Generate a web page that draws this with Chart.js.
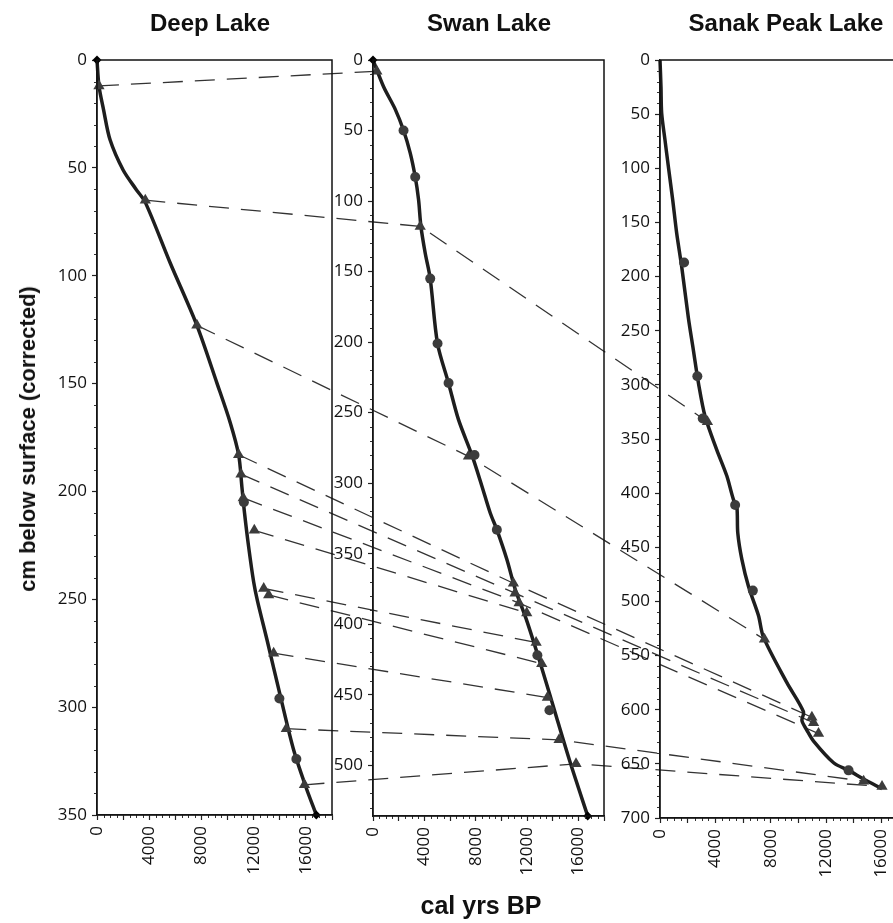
<!DOCTYPE html>
<html>
<head>
<meta charset="utf-8">
<script src="https://cdn.jsdelivr.net/npm/chart.js@4.4.1/dist/chart.umd.min.js"></script>
<style>
html, body { margin: 0; padding: 0; background: #fff; overflow: hidden; }
#wrap { position: relative; width: 893px; height: 923px; overflow: hidden; }
canvas { position: absolute; left: 0; top: 0; }
.lbl { position: absolute; font-family: 'Liberation Sans', Arial, sans-serif; font-weight: bold; color: #111; white-space: nowrap; }
</style>
</head>
<body>
<div id="wrap">
  <canvas id="ties" width="940" height="923"></canvas>
  <canvas id="deep" width="940" height="923"></canvas>
  <canvas id="swan" width="940" height="923"></canvas>
  <canvas id="sanak" width="940" height="923"></canvas>
  <div class="lbl" style="left:210px;top:11px;font-size:24px;line-height:24px;transform:translateX(-50%)">Deep Lake</div>
  <div class="lbl" style="left:489px;top:11px;font-size:24px;line-height:24px;transform:translateX(-50%)">Swan Lake</div>
  <div class="lbl" style="left:786px;top:11px;font-size:24px;line-height:24px;transform:translateX(-50%)">Sanak Peak Lake</div>
  <div class="lbl" style="left:28px;top:439px;font-size:22px;line-height:22px;transform:translate(-50%,-50%) rotate(-90deg)">cm below surface (corrected)</div>
  <div class="lbl" style="left:481px;top:893px;font-size:25px;line-height:25px;transform:translateX(-50%)">cal yrs BP</div>
</div>
<script>
// Deep Lake
const deepCurveAge   = [0, 150, 500, 1000, 2000, 3000, 3700, 5600, 7650, 9200, 10200, 10850, 11100, 11300, 11600, 12000, 12300, 13030, 14050, 15070, 16000, 16800];
const deepCurveDepth = [0, 12, 23, 37, 51, 60, 66, 94, 123, 150, 168, 183, 198, 210, 225, 242, 251, 269, 295, 320, 337, 350];
const deepTriAge     = [150, 3700, 7650, 10850, 11030, 11200, 12050, 12770, 13150, 13530, 14500, 15890];
const deepTriDepth   = [12, 65, 123, 183, 192, 203, 218, 245, 248, 275, 310, 336];
const deepDotAge     = [11250, 13970, 15270];
const deepDotDepth   = [205, 296, 324];
const deepEndAge     = [0, 16800];
const deepEndDepth   = [0, 350];

// Swan Lake
const swanCurveAge   = [0, 826, 1735, 2383, 2902, 3292, 3550, 3735, 4070, 4459, 5027, 5883, 6662, 7704, 8482, 9128, 9650, 10428, 11074, 12000, 13150, 14300, 15400, 16730];
const swanCurveDepth = [0, 19, 35, 50, 66, 83, 99, 118, 137, 155, 201, 229, 255, 280, 302, 321, 333, 354, 375, 398, 431, 466, 499, 536];
const swanTriAge     = [300, 3680, 7440, 10940, 11070, 11385, 11980, 12710, 13150, 13590, 14500, 15820];
const swanTriDepth   = [8, 118, 281, 371, 378, 385, 392, 413, 428, 452, 482, 499];
const swanDotAge     = [2380, 3290, 4460, 5030, 5890, 7910, 9650, 12810, 13750];
const swanDotDepth   = [50, 83, 155, 201, 229, 280, 333, 422, 461];
const swanEndAge     = [0, 16730];
const swanEndDepth   = [0, 536];

// Sanak Peak Lake
const sanakCurveAge   = [0, 72, 120, 362, 600, 917, 1207, 1569, 2050, 2413, 2775, 3258, 4104, 4828, 5310, 5552, 5624, 5914, 6394, 7118, 7479, 9172, 10375, 10260, 10620, 11100, 12548, 13630, 14720, 16050];
const sanakCurveDepth = [0, 25, 49, 74, 98, 129, 160, 191, 238, 268, 298, 329, 360, 384, 406, 412, 437, 461, 486, 513, 533, 575, 602, 610, 619, 629, 649, 656, 664, 673];
const sanakTriAge     = [3430, 7550, 10980, 11100, 11460, 14720, 16050];
const sanakTriDepth   = [334, 535, 607, 612, 622, 666, 671];
const sanakDotAge     = [1740, 2700, 3090, 5430, 6710, 13630];
const sanakDotDepth   = [187, 292, 331, 411, 490, 656];

// tie lines: index into each lake's triangle list (null = no link)
const tieDeep  = [0, 1, 2, 3, 4, 5, 6, 7, 8, 9, 10, 11];
const tieSwan  = [0, 1, 2, 3, 4, 5, 6, 7, 8, 9, 10, 11];
const tieSanak = [null, 0, 1, 2, 3, 4, null, null, null, null, 5, 6];

const tickFont = { family: "'Open Sans', 'DejaVu Sans', sans-serif", size: 17 };
const ink = '#1e1e1e';
const markGray = '#3c3c3c';

function pts(ages, depths) {
    return ages.map((a, i) => ({ x: a, y: depths[i] }));
}

// minor ticks + box round the plot
const frameTicks = {
    id: 'frameTicks',
    afterDraw(chart) {
        const { ctx, chartArea: a, scales: { x, y } } = chart;
        ctx.save();
        ctx.strokeStyle = '#333';
        ctx.lineWidth = 1;
        ctx.beginPath();
        for (let v = 0; v <= y.max; v += 10) {
            if (v % 50 === 0) continue;
            const py = Math.round(y.getPixelForValue(v)) + 0.5;
            ctx.moveTo(a.left - 3, py);
            ctx.lineTo(a.left, py);
        }
        for (let v = 0; v <= x.max; v += 500) {
            if (v % 2000 === 0) continue;
            const px = Math.round(x.getPixelForValue(v)) + 0.5;
            ctx.moveTo(px, a.bottom);
            ctx.lineTo(px, a.bottom + 3);
        }
        ctx.stroke();
        ctx.strokeStyle = '#111';
        ctx.lineWidth = 1.5;
        ctx.strokeRect(a.left, a.top, a.right - a.left, a.bottom - a.top);
        ctx.restore();
    }
};

function makePanel(id, ageMax, depthMax, pad, curve, tris, dots, ends) {
    const datasets = [];
    if (ends) {
        datasets.push({ data: ends, pointStyle: 'rectRot', pointRadius: 4.5, backgroundColor: '#000', borderColor: '#000', borderWidth: 0, clip: false });
    }
    datasets.push({ data: tris, pointStyle: 'triangle', pointRadius: 6.5, backgroundColor: markGray, borderColor: markGray, borderWidth: 0, clip: false });
    datasets.push({ data: dots, pointStyle: 'circle', pointRadius: 5, backgroundColor: markGray, borderColor: markGray, borderWidth: 0, clip: false });
    datasets.push({ data: curve, showLine: true, pointRadius: 0, borderColor: ink, borderWidth: 3.5, tension: 0.3, fill: false, clip: false });

    return new Chart(document.getElementById(id), {
        type: 'scatter',
        data: { datasets: datasets },
        options: {
            responsive: false,
            animation: false,
            events: [],
            layout: { padding: pad },
            plugins: { legend: { display: false }, tooltip: { enabled: false } },
            scales: {
                x: {
                    type: 'linear',
                    min: 0,
                    max: ageMax,
                    afterFit: s => { s.height = 60; },
                    border: { color: '#222', width: 1.3 },
                    grid: { drawOnChartArea: false, tickLength: 5, tickColor: '#222', tickWidth: 1.2 },
                    ticks: {
                        stepSize: 2000, autoSkip: false, minRotation: 90, maxRotation: 90,
                        padding: 6, color: '#111', font: tickFont, includeBounds: false,
                        callback: v => (v % 4000 === 0 ? String(v) : '')
                    }
                },
                y: {
                    type: 'linear',
                    reverse: true,
                    min: 0,
                    max: depthMax,
                    afterFit: s => { s.width = 60; },
                    border: { color: '#222', width: 1.3 },
                    grid: { drawOnChartArea: false, tickLength: 5, tickColor: '#222', tickWidth: 1.2 },
                    ticks: {
                        stepSize: 50, includeBounds: false, padding: 5, color: '#111', font: tickFont,
                        callback: v => String(v)
                    }
                }
            }
        },
        plugins: [frameTicks]
    });
}

const deepChart = makePanel('deep', 18000, 350, { left: 37, top: 60, right: 608, bottom: 48 },
    pts(deepCurveAge, deepCurveDepth), pts(deepTriAge, deepTriDepth), pts(deepDotAge, deepDotDepth), pts(deepEndAge, deepEndDepth));
const swanChart = makePanel('swan', 18000, 536, { left: 313, top: 60, right: 336, bottom: 47 },
    pts(swanCurveAge, swanCurveDepth), pts(swanTriAge, swanTriDepth), pts(swanDotAge, swanDotDepth), pts(swanEndAge, swanEndDepth));
const sanakChart = makePanel('sanak', 18000, 700, { left: 600, top: 60, right: 31, bottom: 45 },
    pts(sanakCurveAge, sanakCurveDepth), pts(sanakTriAge, sanakTriDepth), pts(sanakDotAge, sanakDotDepth), null);

function pixel(chart, age, depth) {
    return [chart.scales.x.getPixelForValue(age), chart.scales.y.getPixelForValue(depth)];
}

// dashed correlation lines, drawn under the panels
function drawTies() {
    const ctx = document.getElementById('ties').getContext('2d');
    ctx.setLineDash([20, 12]);
    ctx.lineWidth = 1.3;
    ctx.strokeStyle = '#333';
    for (let i = 0; i < tieDeep.length; i++) {
        const line = [];
        line.push(pixel(deepChart, deepTriAge[tieDeep[i]], deepTriDepth[tieDeep[i]]));
        line.push(pixel(swanChart, swanTriAge[tieSwan[i]], swanTriDepth[tieSwan[i]]));
        if (tieSanak[i] !== null) {
            line.push(pixel(sanakChart, sanakTriAge[tieSanak[i]], sanakTriDepth[tieSanak[i]]));
        }
        ctx.beginPath();
        ctx.moveTo(line[0][0], line[0][1]);
        for (let k = 1; k < line.length; k++) ctx.lineTo(line[k][0], line[k][1]);
        ctx.stroke();
    }
}
drawTies();
</script>
</body>
</html>
